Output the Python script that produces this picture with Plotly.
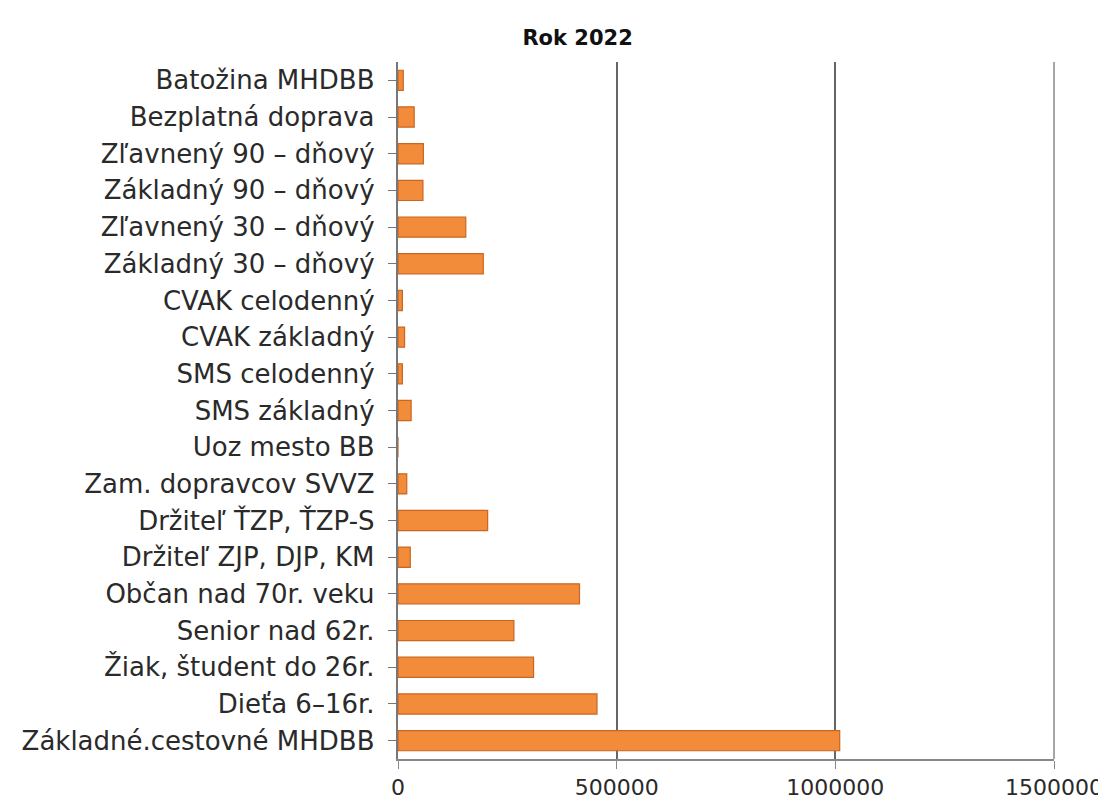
import plotly.graph_objects as go

categories = [
    "Základné.cestovné MHDBB",
    "Dieťa 6–16r.",
    "Žiak, študent do 26r.",
    "Senior nad 62r.",
    "Občan nad 70r. veku",
    "Držiteľ ZJP, DJP, KM",
    "Držiteľ ŤZP, ŤZP-S",
    "Zam. dopravcov SVVZ",
    "Uoz mesto BB",
    "SMS základný",
    "SMS celodenný",
    "CVAK základný",
    "CVAK celodenný",
    "Základný 30 – dňový",
    "Zľavnený 30 – dňový",
    "Základný 90 – dňový",
    "Zľavnený 90 – dňový",
    "Bezplatná doprava",
    "Batožina MHDBB",
]
values = [
    1010000, 455000, 310000, 265000, 415000,
    28000, 205000, 20000, 0, 30000,
    10000, 15000, 10000, 195000, 155000,
    57000, 58000, 37000, 12000,
]
x_ticks = [0, 500000, 1000000, 1500000]
x_tick_labels = ["0", "500000", "1000000", "1500000"]
title_text = "Rok 2022"

fig = go.Figure()
fig.add_trace(go.Bar(
    y=categories,
    x=values,
    orientation="h",
    width=0.55,
    marker=dict(color="#F28B3A", line=dict(color="#C9661F", width=1.2)),
    showlegend=False,
))

fig.update_layout(
    width=1106,
    height=811,
    paper_bgcolor="white",
    plot_bgcolor="white",
    margin=dict(l=390, r=60, t=54, b=60),
    font=dict(family="DejaVu Sans", size=26, color="#2a2a2a"),
    title=dict(text="<b>" + title_text + "</b>", x=0.515, xref="container",
               xanchor="center", y=0.963, yref="container", yanchor="middle",
               font=dict(family="DejaVu Sans", size=21, color="#111111")),
)
fig.update_xaxes(
    range=[0, 1500000],
    tickvals=x_ticks,
    ticktext=x_tick_labels,
    showgrid=True,
    gridcolor="#666666",
    gridwidth=1.5,
    zeroline=False,
    showline=True,
    linecolor="#888888",
    linewidth=1.5,
    ticks="outside",
    ticklen=8,
    tickcolor="#888888",
    tickfont=dict(size=22, color="#2a2a2a"),
    ticklabeloverflow="allow",
    automargin=False,
)
fig.update_yaxes(
    categoryorder="array",
    categoryarray=categories,
    showline=True,
    linecolor="#777777",
    linewidth=2,
    ticks="outside",
    ticklen=8,
    tickcolor="#777777",
    ticksuffix=" ",
    tickfont=dict(size=26, color="#2a2a2a"),
    automargin=False,
)
fig.add_shape(type="line", xref="paper", yref="paper", x0=1, x1=1, y0=0, y1=1,
              line=dict(color="#888888", width=1.5))

fig.write_html("out.html")
